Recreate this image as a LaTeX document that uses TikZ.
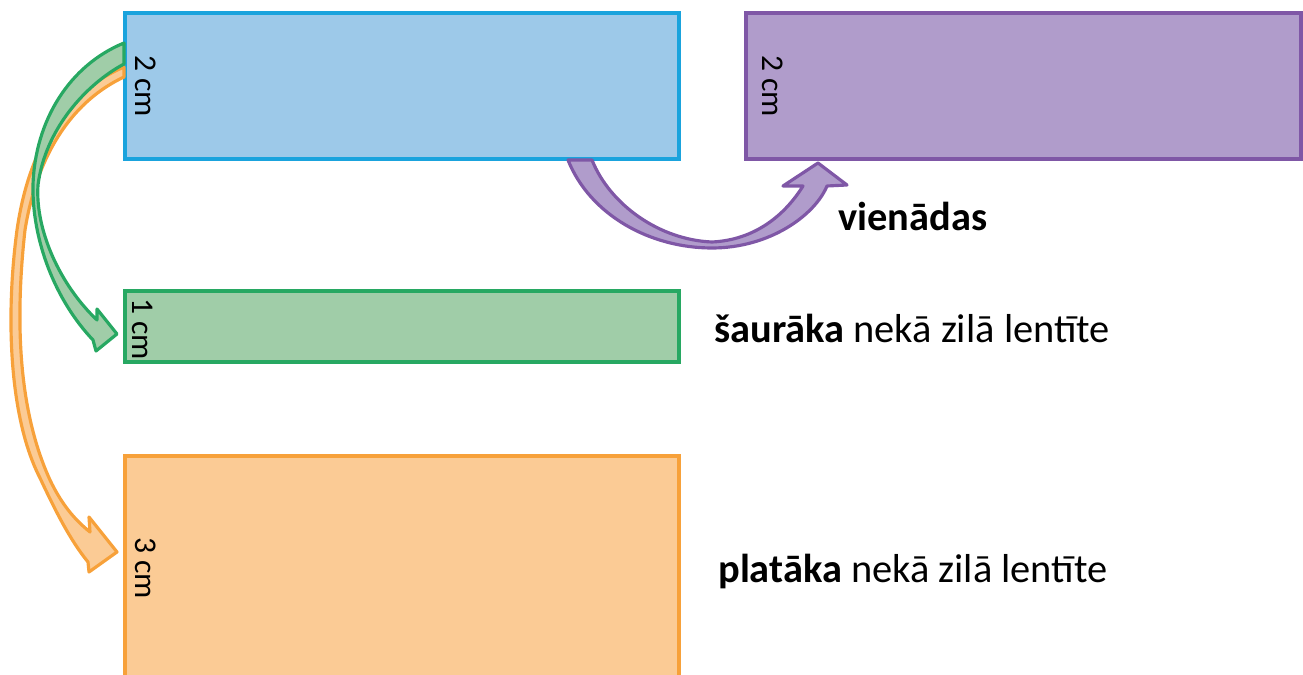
\documentclass[tikz,border=0pt]{standalone}
\usepackage{fontspec}
\setmainfont{Carlito}
\definecolor{blueFill}{HTML}{9DC9E9}
\definecolor{blueLine}{HTML}{1AA3DD}
\definecolor{violetFill}{HTML}{B09CCB}
\definecolor{violetLine}{HTML}{7F57A6}
\definecolor{greenFill}{HTML}{A0CDA8}
\definecolor{greenLine}{HTML}{27A862}
\definecolor{orangeFill}{HTML}{FBCB95}
\definecolor{orangeLine}{HTML}{F7A13A}

\begin{document}
\begin{tikzpicture}[x=0.02cm, y=-0.02cm,
    strip/.style={line width=2.1pt},
    curvearrow/.style={line width=1.8pt, line join=round},
    cmlabel/.style={rotate=-90, anchor=base west, inner sep=0pt, font=\fontsize{18}{18}\selectfont},
    note/.style={anchor=base west, inner sep=0pt, font=\fontsize{23}{23}\selectfont}]
    \clip (0,0) rectangle (1303,675);
    \useasboundingbox (0,0) rectangle (1303,675);

    % strips
    \draw[strip, fill=blueFill, draw=blueLine] (125,13) rectangle (679,159);
    \draw[strip, fill=violetFill, draw=violetLine] (746,13) rectangle (1301,159);
    \draw[strip, fill=greenFill, draw=greenLine] (125,291) rectangle (679,362);
    \draw[strip, fill=orangeFill, draw=orangeLine] (125,456) rectangle (679,700);

    % widths
    \node[cmlabel] (blueW) at (135,55) {2 cm};
    \node[cmlabel] (violetW) at (762,55) {2 cm};
    \node[cmlabel] (greenW) at (132,298) {1 cm};
    \node[cmlabel] (orangeW) at (135,537) {3 cm};

    % curved arrows
    \draw[curvearrow, fill=orangeFill, draw=orangeLine] (124,67) .. controls (70,90) and (30,140) .. (17,230)
        .. controls (5,320) and (10,420) .. (40,478) .. controls (55,510) and (70,540) .. (88,562)
        -- (89,572) -- (117,552) -- (89,517) -- (90,532)
        .. controls (75,520) and (62,505) .. (50,480) .. controls (18,410) and (15,320) .. (25,230)
        .. controls (38,150) and (75,100) .. (124,77) -- cycle;
    \draw[curvearrow, fill=greenFill, draw=greenLine] (124,43) .. controls (70,65) and (35,120) .. (33,185)
        .. controls (32,240) and (55,300) .. (93,340) -- (96,351) -- (117,334) -- (97,309) -- (97,320)
        .. controls (60,285) and (35,230) .. (38,185) .. controls (45,130) and (85,85) .. (124,64) -- cycle;
    \draw[curvearrow, fill=violetFill, draw=violetLine] (568,160) .. controls (590,215) and (650,248) .. (712,248)
        .. controls (770,248) and (815,215) .. (827,186) -- (847,185) -- (818,163) -- (783,186) -- (803,186)
        .. controls (785,215) and (755,240) .. (712,242) .. controls (660,240) and (610,205) .. (592,160) -- cycle;

    % notes
    \node[note] (same) at (838,231) {\textbf{vienādas}};
    \node[note] (narrow) at (714,343) {\textbf{šaurāka} nekā zilā lentīte};
    \node[note] (wide) at (718,583) {\textbf{platāka} nekā zilā lentīte};
\end{tikzpicture}
\end{document}
